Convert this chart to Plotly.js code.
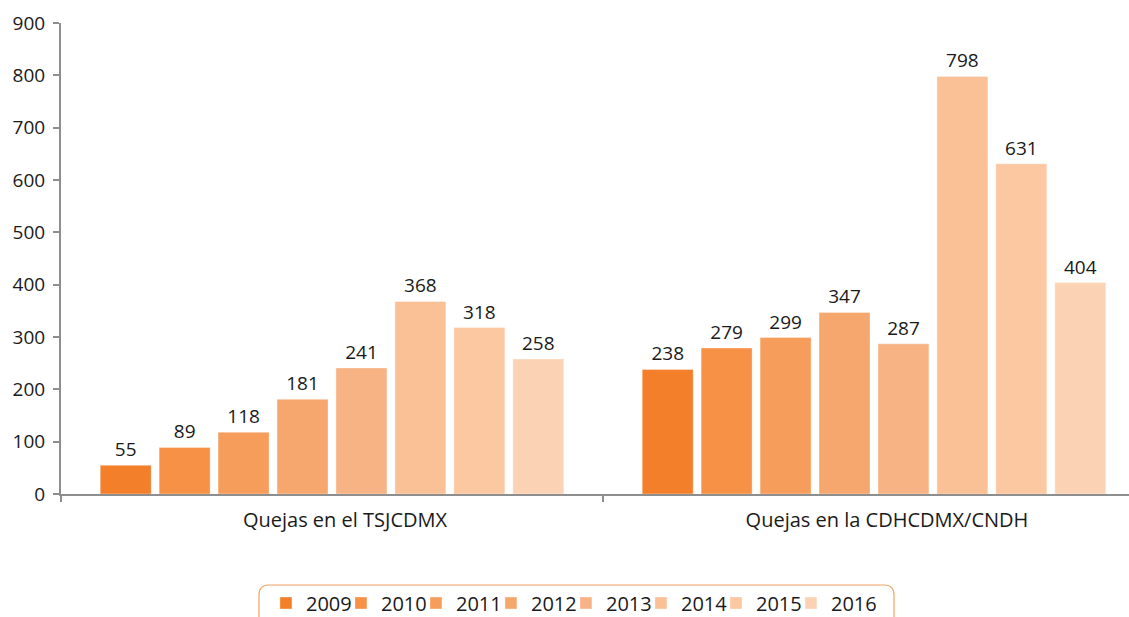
<!DOCTYPE html>
<html><head><meta charset="utf-8">
<script src="https://cdn.plot.ly/plotly-3.0.1.min.js"></script>
<style>body{margin:0;padding:0;background:#fff}#chart{width:1129px;height:617px}</style>
</head><body><div id="chart"></div>
<script>
const categories = ["Quejas en el TSJCDMX", "Quejas en la CDHCDMX/CNDH"];
const years = ["2009","2010","2011","2012","2013","2014","2015","2016"];
const v2009 = [55, 238];
const v2010 = [89, 279];
const v2011 = [118, 299];
const v2012 = [181, 347];
const v2013 = [241, 287];
const v2014 = [368, 798];
const v2015 = [318, 631];
const v2016 = [258, 404];
const seriesValues = [v2009, v2010, v2011, v2012, v2013, v2014, v2015, v2016];
const colors = ["#F47F2A","#F69146","#F69D5C","#F6A76D","#F8B384","#FBC196","#FBC8A2","#FBD3B4"];

const traces = years.map((y, i) => ({
  type: "bar",
  name: y,
  x: categories,
  y: seriesValues[i],
  marker: {color: colors[i], line: {color: "rgba(255,255,255,0.35)", width: 1}},
  text: seriesValues[i].map(String),
  textposition: "outside",
  cliponaxis: false,
  textfont: {family: "Open Sans", size: 19, color: "#1a1a1a"},
  hoverinfo: "none"
}));
// invisible spacer entry so the last legend label is not clipped
traces.push({type: "scatter", mode: "markers", x: [categories[0]], y: [0], name: " ",
  marker: {color: "rgba(0,0,0,0)", size: 1}, showlegend: true, hoverinfo: "none"});

const layout = {
  width: 1129, height: 617,
  margin: {l: 61, r: 0, t: 23, b: 123, autoexpand: false},
  paper_bgcolor: "#fff", plot_bgcolor: "#fff",
  font: {family: "Open Sans", size: 18, color: "#1a1a1a"},
  barmode: "group",
  bargap: 0.13,
  bargroupgap: 0.135,
  showlegend: true,
  xaxis: {
    type: "category",
    range: [-0.5, 1.4705],
    tickmode: "array",
    tickvals: categories,
    ticktext: categories.map(c => "\u00a0\u00a0\u00a0\u00a0\u00a0" + c),
    showline: true, linecolor: "#8e8e8e", linewidth: 2,
    ticks: "outside", tickson: "boundaries", ticklen: 6, tickcolor: "#8e8e8e", tickwidth: 2,
    ticklabelstandoff: 7,
    showgrid: false, zeroline: false,
    tickfont: {family: "Open Sans", size: 20, color: "#1a1a1a"}
  },
  yaxis: {
    range: [0, 900], dtick: 100,
    showline: true, linecolor: "#8e8e8e", linewidth: 2,
    ticks: "outside", ticklen: 6, tickcolor: "#8e8e8e", tickwidth: 2,
    ticklabelstandoff: 4,
    showgrid: false, zeroline: false,
    tickfont: {family: "Open Sans", size: 19, color: "#1a1a1a"}
  },
  legend: {
    orientation: "h",
    x: 0.1919, xanchor: "left",
    y: -0.19, yanchor: "top",
    font: {family: "Open Sans", size: 20, color: "#1a1a1a"},
    itemwidth: 30,
    entrywidth: 30,
    entrywidthmode: "pixels",
    tracegroupgap: 0,
    bgcolor: "rgba(0,0,0,0)",
    borderwidth: 0
  },
  shapes: [{
    type: "path", xref: "paper", yref: "paper",
    path: (function(){
      const W = 1068, H = 471;
      const x0 = (259-61)/W, x1 = (894-61)/W;
      const yTop = (494-585)/H, yBot = (494-640)/H;
      const rx = 10/W, ry = 10/H;
      return `M ${x0} ${yBot} L ${x0} ${yTop - ry} Q ${x0} ${yTop} ${x0+rx} ${yTop} L ${x1-rx} ${yTop} Q ${x1} ${yTop} ${x1} ${yTop - ry} L ${x1} ${yBot}`;
    })(),
    line: {color: "#F4A261", width: 1.2}
  }]
};

Plotly.newPlot("chart", traces, layout, {displayModeBar: false, staticPlot: true});
</script></body></html>
